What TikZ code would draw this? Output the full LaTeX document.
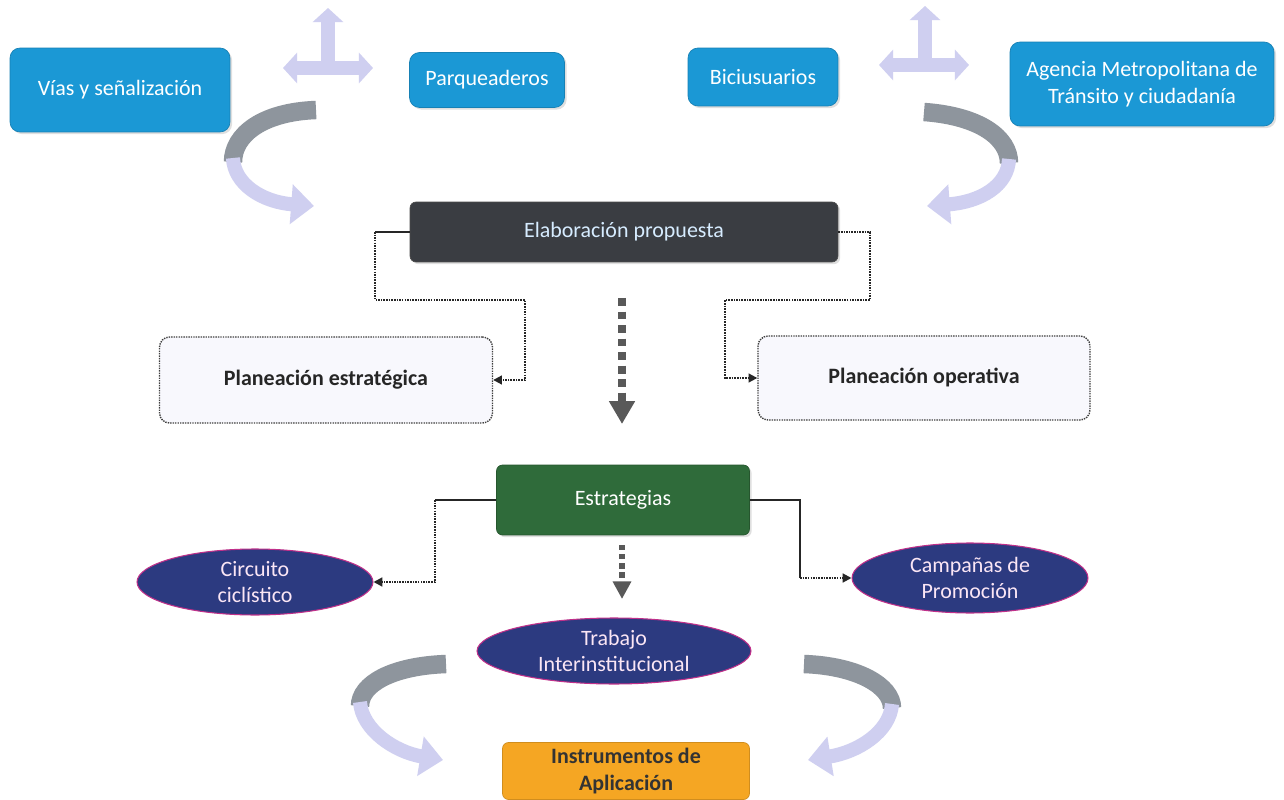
\documentclass[tikz,border=0pt]{standalone}
\usepackage{fontspec}
\setmainfont{Carlito}
\usetikzlibrary{arrows.meta,shapes.geometric,shadows}
\definecolor{cblue}{HTML}{1B98D5}
\definecolor{cdark}{HTML}{3A3D42}
\definecolor{cgreen}{HTML}{2F6B3A}
\definecolor{cnavy}{HTML}{2C3A80}
\definecolor{cmag}{HTML}{C0308A}
\definecolor{corange}{HTML}{F5A623}
\definecolor{cpale}{HTML}{F8F8FD}
\definecolor{cgray}{HTML}{8E959D}
\definecolor{clav}{HTML}{CFCFF0}
\definecolor{cpink}{HTML}{FBE6F5}
\definecolor{celabt}{HTML}{D6ECFF}
\tikzset{
  shade1/.style={drop shadow={shadow xshift=1.2pt,shadow yshift=-1.2pt,opacity=0.25}},
  bluebox/.style={rectangle, rounded corners=0.2cm, fill=cblue, draw=cblue!85!black, line width=0.4pt, text=white, align=center, inner sep=0pt, shade1},
  darkbox/.style={rectangle, rounded corners=0.12cm, fill=cdark, draw=black!70, line width=0.4pt, text=celabt, align=center, inner sep=0pt, shade1},
  planbox/.style={rectangle, rounded corners=0.2cm, fill=cpale, draw=black!75, line width=0.8pt, dash pattern=on 0.8pt off 0.6pt, align=center, inner sep=0pt, font=\fontsize{12.5}{15}\selectfont\bfseries, text=black!85},
  greenbox/.style={rectangle, rounded corners=0.12cm, fill=cgreen, draw=cgreen!80!black, line width=0.4pt, text=white, align=center, inner sep=0pt, shade1},
  ellnode/.style={ellipse, fill=cnavy, draw=cmag, line width=0.6pt, text=cpink, align=center, inner sep=0pt},
  orangebox/.style={rectangle, rounded corners=0.12cm, fill=corange, draw=corange!85!black, line width=0.4pt, text=black!80, align=center, inner sep=0pt, font=\fontsize{12.5}{15}\selectfont\bfseries},
  leadline/.style={draw=black!85, line width=0.6pt},
  conn/.style={draw=black!85, line width=1.1pt, dash pattern=on 0.9pt off 0.6pt, -{Triangle[length=5pt,width=5pt]}},
  bigdash/.style={draw=black!65, line width=4.5pt, dash pattern=on 4.5pt off 3.2pt, -{Triangle[length=13pt,width=14pt]}},
  smalldash/.style={draw=black!65, line width=3pt, dash pattern=on 3pt off 2.2pt, -{Triangle[length=10pt,width=10pt]}},
  curvg/.style={draw=cgray, line width=10.5pt},
  curvl/.style={draw=clav, line width=8pt, -{Triangle[length=13pt,width=22pt]}},
  crossarr/.style={draw=clav, line width=8pt, -{Triangle[length=8pt,width=17pt]}},
  crossarr2/.style={draw=clav, line width=8pt, {Triangle[length=8pt,width=17pt]}-{Triangle[length=8pt,width=17pt]}}
}
\begin{document}
\begin{tikzpicture}[x=0.02cm,y=-0.02cm, font=\fontsize{12.5}{15}\selectfont]
\useasboundingbox (0,0) rectangle (1284,800);
\fill[white] (0,0) rectangle (1284,800);

% decorative cross arrows
\draw[crossarr] (328,72) -- (328,8);
\draw[crossarr2] (283,68) -- (373,68);
\draw[crossarr] (925,70) -- (925,6);
\draw[crossarr2] (879,65) -- (969,65);

% decorative curved arrows
\draw[curvg] (316,110) .. controls (262,112) and (233,135) .. (233,162);
\draw[curvl] (233,158) .. controls (234,184) and (262,202) .. (314,206);
\draw[curvg] (924,112) .. controls (980,116) and (1009,138) .. (1009,163);
\draw[curvl] (1009,159) .. controls (1008,186) and (980,202) .. (927,206);
\draw[curvg] (446,664) .. controls (392,666) and (360,684) .. (360,706);
\draw[curvl] (360,702) .. controls (362,730) and (395,752) .. (443,760);
\draw[curvg] (804,664) .. controls (858,666) and (892,686) .. (892,708);
\draw[curvl] (892,704) .. controls (890,732) and (858,752) .. (808,760);

% nodes
\node[bluebox, minimum width=4.4cm, minimum height=1.68cm] (vias) at (120,90) {Vías y señalización};
\node[bluebox, minimum width=3.1cm, minimum height=1.1cm] (parq) at (487,80) {Parqueaderos};
\node[bluebox, minimum width=3.0cm, minimum height=1.16cm] (bici) at (763,77) {Biciusuarios};
\node[bluebox, minimum width=5.28cm, minimum height=1.68cm] (agen) at (1142,84) {Agencia Metropolitana de\\Tránsito y ciudadanía};
\node[darkbox, minimum width=8.56cm, minimum height=1.2cm] (elab) at (624,232) {Elaboración propuesta};
\node[planbox, minimum width=6.66cm, minimum height=1.72cm] (pe) at (326,380) {Planeación estratégica};
\node[planbox, minimum width=6.64cm, minimum height=1.68cm] (po) at (924,378) {Planeación operativa};
\node[greenbox, minimum width=5.06cm, minimum height=1.4cm] (est) at (623,500) {Estrategias};
\node[ellnode, minimum width=4.72cm, minimum height=1.32cm] (circ) at (255,582) {Circuito\\ciclístico};
\node[ellnode, minimum width=4.72cm, minimum height=1.4cm] (camp) at (970,578) {Campañas de\\Promoción};
\node[ellnode, minimum width=5.48cm, minimum height=1.32cm] (trab) at (614,651) {Trabajo\\Interinstitucional};
\node[orangebox, minimum width=4.94cm, minimum height=1.14cm] (inst) at (626,771) {Instrumentos de\\Aplicación};

% connector coordinates
\coordinate (l1) at (375,300);
\coordinate (l2) at (525,300);
\coordinate (r1) at (870,300);
\coordinate (r2) at (725,300);
\coordinate (s1) at (435,582);
\coordinate (s2) at (800,578);
\coordinate (m1) at (622,298);
\coordinate (m2) at (622,424);
\coordinate (n1) at (622,545);
\coordinate (n2) at (622,599);

% connectors
\draw[leadline] (elab.west) -- (elab.west -| l1);
\draw[conn] (elab.west -| l1) -- (l1) -- (l2) |- (pe.east);
\draw[conn] (elab.east) -| (r1) -- (r2) |- (po.west);
\draw[leadline] (est.west) -- (est.west -| s1);
\draw[conn] (est.west -| s1) -- (s1) -- (circ.east);
\draw[leadline] (est.east) -| (s2);
\draw[conn] (s2) -- (camp.west);
\draw[bigdash] (m1) -- (m2);
\draw[smalldash] (n1) -- (n2);
\end{tikzpicture}
\end{document}
